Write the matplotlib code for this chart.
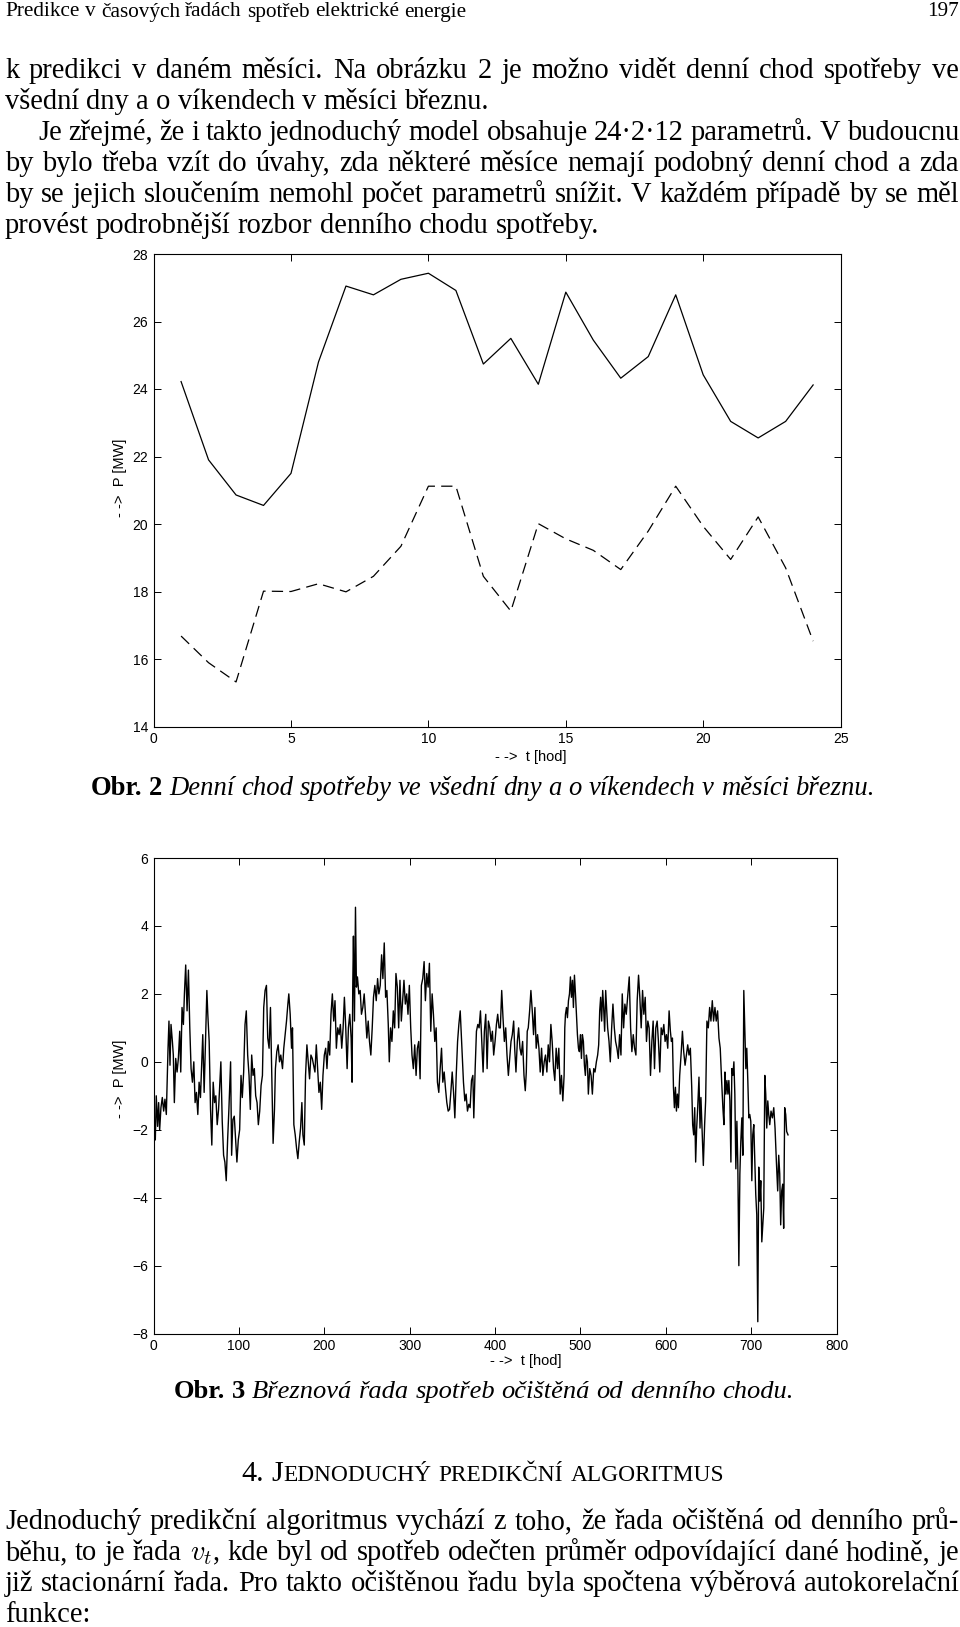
import matplotlib
matplotlib.use('Agg')
import matplotlib.pyplot as plt

# Obr. 2 - denni chod spotreby v breznu (vsedni dny / vikendy)
hodiny = list(range(1, 25))
vsedni = [24.22, 21.9, 20.86, 20.55, 21.5, 24.8, 27.05, 26.79, 27.25, 27.43, 26.92, 24.74,
          25.5, 24.14, 26.87, 25.45, 24.32, 24.96, 26.79, 24.42, 23.04, 22.55, 23.04, 24.12]
vikend = [16.68, 15.89, 15.32, 18.01, 18.0, 18.23, 17.99, 18.45, 19.34, 21.12, 21.12, 18.45,
          17.42, 20.01, 19.56, 19.22, 18.65, 19.79, 21.12, 19.93, 18.95, 20.21, 18.7, 16.53]
x1_ticks = [0, 5, 10, 15, 20, 25]
y1_ticks = [14, 16, 18, 20, 22, 24, 26, 28]

# Obr. 3 - breznova rada ocistena od denniho chodu
brezen_t = [
    0, 2.0, 3.1, 4.7, 5.9, 7.1, 8.6, 10.2, 11.8, 13.3,
    14.9, 16.9, 18.0, 19.2, 20.4, 22.0, 23.1, 24.3, 25.9, 27.5,
    29.0, 30.6, 31.8, 33.3, 34.9, 36.1, 37.6, 39.2, 40.8, 42.4,
    43.9, 45.5, 47.1, 48.6, 50.2, 51.8, 53.3, 54.9, 56.5, 57.6,
    59.2, 60.8, 62.4, 63.5, 65.1, 66.7, 68.2, 69.8, 71.4, 72.9,
    74.5, 76.1, 77.6, 78.8, 80.4, 82.0, 83.5, 85.1, 86.7, 88.2,
    90.2, 91.4, 92.9, 94.5, 96.1, 97.6, 99.2, 100.8, 102.4, 103.9,
    105.5, 107.1, 108.6, 110.2, 111.8, 113.3, 114.9, 116.5, 118.0, 119.6,
    121.2, 122.7, 124.3, 125.9, 127.5, 129.0, 130.6, 132.2, 133.7, 135.3,
    136.9, 138.4, 140.0, 141.6, 142.7, 144.3, 145.9, 147.5, 149.0, 151.0,
    152.5, 154.1, 155.7, 157.3, 158.4, 160.0, 161.6, 162.7, 164.3, 165.9,
    167.5, 169.0, 170.6, 172.2, 173.7, 174.9, 176.5, 178.0, 179.6, 181.2,
    182.7, 184.3, 185.9, 187.5, 189.0, 190.6, 192.2, 193.7, 195.3, 196.9,
    198.4, 200.0, 201.6, 203.1, 204.7, 206.3, 207.8, 209.4, 211.0, 212.5,
    214.1, 215.7, 217.3, 218.8, 220.4, 222.0, 223.5, 225.1, 226.7, 228.2,
    229.8, 231.4, 232.5, 233.3, 234.1, 235.3, 236.5, 237.6, 238.8, 240.4,
    242.0, 243.5, 245.1, 246.7, 248.2, 249.8, 251.4, 252.9, 254.5, 256.1,
    257.6, 259.2, 260.8, 262.4, 263.9, 265.5, 267.1, 268.6, 270.2, 271.8,
    273.3, 274.9, 276.1, 277.6, 279.2, 280.8, 282.4, 283.9, 285.5, 287.1,
    288.6, 290.2, 291.8, 293.3, 294.9, 296.5, 298.0, 299.6, 301.2, 302.7,
    304.3, 305.9, 307.5, 309.0, 310.6, 312.2, 313.7, 315.3, 316.9, 318.4,
    320.0, 321.6, 323.1, 324.7, 326.3, 327.8, 329.4, 331.0, 332.5, 334.1,
    335.7, 337.3, 338.8, 340.4, 342.0, 343.5, 345.1, 346.7, 348.2, 349.8,
    351.4, 352.9, 354.5, 356.1, 357.6, 359.2,
    361.5, 363.0, 364.6, 366.1, 367.7, 369.3, 370.8, 372.4, 374.0, 375.1,
    376.7, 378.2, 379.8, 381.3, 382.9, 384.4, 386.0, 387.5, 389.1, 390.7,
    392.2, 393.8, 395.3, 396.9, 398.4, 400.0, 401.6, 403.1, 404.7, 406.2,
    407.8, 409.3, 410.9, 412.5, 414.0, 415.6, 417.1, 418.7, 420.2, 421.8,
    423.0, 424.5, 426.1, 427.6, 429.2, 430.7, 432.3, 433.9, 435.4, 436.6,
    437.7, 438.9, 440.5, 442.0, 443.6, 445.1, 446.7, 448.2, 449.8, 451.4,
    452.9, 454.5, 456.0, 457.6, 459.1, 460.7, 462.3, 463.8, 465.4, 466.9,
    468.5, 470.0, 471.6, 473.2, 474.7, 476.3, 477.8, 479.4, 480.9, 481.7,
    482.5, 483.7, 484.8, 486.0, 487.2, 488.3, 489.5, 490.7, 491.8, 493.0,
    494.2, 495.3, 496.5, 497.7, 498.8, 500.0, 501.2, 502.3, 503.5, 504.7,
    505.8, 507.0, 508.2, 509.3, 510.9, 512.5, 514.0, 515.6, 517.1, 518.7,
    520.2, 521.4, 522.6, 523.7, 524.9, 526.1, 527.2, 528.4, 529.6, 530.7,
    531.9, 533.5, 535.0, 536.6, 538.1, 539.7, 541.2, 542.8, 544.4, 545.9,
    547.5, 549.0, 550.6, 552.1, 553.7, 555.3, 557.2, 558.8, 560.3, 561.9,
    563.4, 565.0, 566.5, 568.1, 569.6, 571.2, 572.8, 574.3, 575.9, 577.4,
    579.0, 580.5, 582.1, 583.7, 585.2, 586.8, 588.3, 589.9, 591.4, 593.0,
    594.6, 596.1, 597.7, 599.2, 600.8, 602.3, 603.9, 605.4, 606.6, 607.8,
    609.0, 610.1, 611.3, 612.5, 613.6, 614.8, 616.3, 617.9, 619.5, 621.0,
    622.6, 624.1, 625.7, 627.2, 628.8, 630.4, 631.5, 632.7, 633.9, 635.0,
    636.2, 637.4, 638.9, 640.1, 641.2, 642.8, 644.0, 645.5, 646.7, 648.2,
    649.8, 651.4, 652.9, 654.5, 656.0, 657.6, 659.1, 660.7, 662.3, 663.8,
    665.4, 666.9, 668.1, 669.3, 670.4, 671.6, 672.8, 673.9, 675.1, 676.3,
    677.4, 678.6, 679.8, 680.9, 682.1, 683.3, 684.4, 685.6, 686.8, 687.9,
    689.1, 690.3, 691.4, 692.6, 693.8, 694.9, 696.1, 697.3, 698.4, 699.6,
    700.8, 701.9, 703.1, 704.3, 705.4, 706.6, 707.8, 708.9, 710.1, 711.3,
    712.5, 713.6, 714.8, 716.0, 717.1, 718.3, 719.5, 720.6, 721.8, 723.3,
    724.9, 726.5, 728.0, 729.6, 731.1, 732.3, 733.5, 734.6, 735.8, 737.0,
    738.1, 739.3, 740.5, 741.6, 743.2,
]
brezen_v = [
    -1.65, -2.3, -1.0, -1.9, -1.2, -2.0, -1.35, -1.05, -1.45, -1.1,
    -1.55, 0.4, 1.2, -0.1, 1.1, 0.6, 0.2, -1.2, 0.1, -0.3,
    0.1, 0.9, -0.3, 1.6, 1.1, 2.0, 2.85, 1.5, 2.7, 1.0,
    -0.2, -0.6, 0.0, -1.2, -0.9, -1.55, -0.6, -1.05, 0.1, 0.8,
    -0.9, 0.6, 2.1, 1.4, 0.6, -1.4, -2.45, -0.6, -1.2, -1.0,
    -1.85, -1.4, -0.6, 0.0, -1.75, -2.75, -2.95, -3.5, -2.3, -1.4,
    0.0, -2.75, -1.7, -1.6, -2.3, -2.95, -2.3, -2.0, -0.4, -1.05,
    -0.3, 1.1, 1.5, 0.2, -0.4, -1.4, 0.2, -0.4, -0.2, -1.0,
    -1.2, -1.85, -1.45, -0.7, -0.4, 1.6, 2.1, 2.25, 0.7, 0.4,
    1.6, -0.4, -2.4, -1.4, -0.2, 0.3, 0.5, 0.0, 0.2, -0.2,
    0.4, 0.8, 1.2, 1.7, 2.0, 1.4, 0.4, 1.0, -1.85, -2.15,
    -2.55, -2.85, -2.35, -1.95, -1.2, -2.15, -2.45, -0.4, 0.5, 0.0,
    -0.5, 0.2, 0.1, -0.1, -0.3, 0.5, -0.2, -0.9, -0.6, -1.4,
    -0.4, 0.2, 0.4, -0.2, 0.6, 0.2, 1.4, 2.0, 1.2, 1.8,
    0.4, 1.0, 0.8, 1.1, 0.4, 1.0, 1.9, 1.0, -0.2, 1.0,
    1.4, 0.7, -0.6, 2.2, 3.7, 1.2, 4.55, 2.2, 2.5, 2.0,
    2.1, 1.4, 1.6, 2.0, 1.4, 0.7, 1.2, 0.6, 0.2, 1.0,
    1.9, 2.25, 1.8, 2.45, 2.0, 2.25, 3.15, 2.45, 3.5, 1.9,
    2.1, 1.1, 0.0, 1.0, 0.6, 1.5, 1.0, 2.6, 2.2, 1.0,
    2.4, 1.2, 1.8, 2.4, 1.7, 2.0, 1.4, 2.25, 1.0, 0.2,
    -0.2, 0.5, -0.4, 0.4, 0.6, -0.5, 2.25, 2.45, 2.95, 1.8,
    2.6, 2.2, 2.9, 0.9, 2.0, 1.4, 0.6, 1.0, -0.6, -0.9,
    -0.2, 0.4, -0.6, -0.3, -0.8, -1.2, -1.45, -1.4, -0.9, -0.3,
    -0.9, -1.65, -0.4, 0.6, 1.1, 1.5,
    0.2, -0.6, -1.15, -0.95, -1.45, -1.25, -1.35, -0.55, -0.4, -1.65,
    -0.2, 0.9, 1.1, 1.0, 1.5, 0.6, -0.3, 0.9, 1.4, -0.2,
    1.2, 1.0, 0.6, 0.9, 0.2, 0.6, 1.1, 1.4, 1.0, 1.0,
    2.1, 1.3, 0.6, 1.0, 0.2, -0.4, 0.1, 0.6, 0.8, 1.2,
    0.4, -0.3, 0.6, 1.0, 0.4, 0.2, 0.6, -0.4, -0.85, -0.3,
    0.9, 1.0, 1.5, 2.1, 1.5, 0.8, 1.6, 0.4, 0.8, 0.4,
    -0.3, 0.4, -0.4, 0.0, 0.2, -0.3, 0.5, 0.0, 1.1, 0.6,
    -0.2, -0.55, 0.4, -0.2, 0.4, -0.95, -0.4, -1.15, -0.4, 1.0,
    1.4, 1.6, 1.3, 1.8, 2.0, 2.5, 1.9, 2.4, 1.6, 2.55,
    2.0, 1.4, 0.8, 0.4, 0.3, 0.8, 0.1, 0.8, 0.6, -0.1,
    -0.4, 0.2, 0.0, -0.95, -0.2, -0.4, -0.95, -0.2, -0.3, 0.0,
    0.2, 0.5, 1.5, 1.9, 1.2, 2.1, 1.6, 0.9, 2.1, 1.6,
    1.0, 0.6, 0.0, 1.0, 1.7, 1.0, 0.6, 0.4, 0.1, 0.8,
    0.2, 2.0, 1.0, 1.7, 1.4, 1.9, 2.5, 1.0, 0.3, 0.8,
    0.4, 0.2, 1.8, 2.55, 1.9, 1.0, 2.1, 1.4, 1.9, 0.6,
    1.2, 1.0, -0.4, 0.6, 1.2, -0.2, 1.0, 1.2, 0.6, -0.3,
    1.0, 0.8, 1.1, 0.6, 0.8, 0.4, 1.5, 0.9, 0.6, 0.7,
    -0.75, -1.35, -0.75, -1.45, -0.95, -1.35, -0.4, 0.2, 0.9, 0.3,
    -0.1, 0.2, 0.5, 0.2, 0.4, -0.75, -1.85, -2.15, -1.35, -2.95,
    -1.95, -1.35, -0.45, -1.95, -1.05, -2.15, -3.05, -1.85, -1.15, 1.2,
    1.0, 1.6, 1.2, 1.8, 1.2, 1.6, 1.2, 1.5, 0.7, 0.4,
    -0.55, -1.35, -1.85, -0.3, -0.95, -0.55, -0.95, -0.55, -1.15, -2.95,
    -0.2, -0.4, 0.0, -0.95, -3.15, -1.75, -3.05, -6.0, -3.3, -2.35,
    -1.65, -2.75, 2.1, 1.0, -0.2, 0.4, -0.55, -1.65, -1.55, -1.75,
    -3.5, -2.15, -1.85, -2.95, -3.9, -4.5, -7.65, -3.1, -4.1, -3.5,
    -5.3, -4.8, -4.3, -0.4, -0.95, -1.95, -1.15, -1.55, -1.85, -1.45,
    -1.65, -1.35, -1.95, -2.95, -3.8, -2.75, -3.3, -4.8, -3.8, -3.6,
    -4.9, -1.35, -1.55, -2.05, -2.15,
]
x2_ticks = [0, 100, 200, 300, 400, 500, 600, 700, 800]
y2_ticks = [-8, -6, -4, -2, 0, 2, 4, 6]

# texty stranky
zahlavi = 'Predikce v časových řadách spotřeb elektrické energie'
cislo_strany = '197'
odstavec1 = [
    'k predikci v daném měsíci. Na obrázku 2 je možno vidět denní chod spotřeby ve',
    'všední dny a o víkendech v měsíci březnu.',
    'Je zřejmé, že i takto jednoduchý model obsahuje 24·2·12 parametrů. V budoucnu',
    'by bylo třeba vzít do úvahy, zda některé měsíce nemají podobný denní chod a zda',
    'by se jejich sloučením nemohl počet parametrů snížit. V každém případě by se měl',
    'provést podrobnější rozbor denního chodu spotřeby.',
]
odstavec2 = [
    'Jednoduchý predikční algoritmus vychází z toho, že řada očištěná od denního prů-',
    'běhu, to je řada $v_t$, kde byl od spotřeb odečten průměr odpovídající dané hodině, je',
    'již stacionární řada. Pro takto očištěnou řadu byla spočtena výběrová autokorelační',
    'funkce:',
]
popis2 = 'Denní chod spotřeby ve všední dny a o víkendech v měsíci březnu.'
popis3 = 'Březnová řada spotřeb očištěná od denního chodu.'

W, H = 960, 1627
plt.rcParams['mathtext.fontset'] = 'cm'
fig = plt.figure(figsize=(W / 100, H / 100), dpi=100)
fig.patch.set_facecolor('white')
renderer = fig.canvas.get_renderer()

SERIF = 'Liberation Serif'
SANS = 'Liberation Sans'
ROMAN = dict(fontfamily=SERIF)
ITAL = dict(fontfamily=SERIF, fontstyle='italic')
BOLD = dict(fontfamily=SERIF, fontweight='bold')


def measure(s, size, kw):
    t = fig.text(0, 0, s, fontsize=size, **kw)
    w = t.get_window_extent(renderer).width
    t.remove()
    return w


def words(s, kw=ROMAN, rel=1.0):
    return [[(w, kw, rel)] for w in s.split()]


def draw_line(ws, y, size, x0=5, x1=959, mode='left', fit=None):
    # ws: seznam slov, slovo = seznam kousku (text, styl, relativni velikost)
    if fit is not None:
        nat = sum(measure(p, size * r, kw) for w in ws for p, kw, r in w)
        nat += (len(ws) - 1) * (measure('x x', size, ROMAN) - measure('xx', size, ROMAN))
        size = size * fit / nat
    space = measure('x x', size, ROMAN) - measure('xx', size, ROMAN)
    widths = [[measure(p, size * r, kw) for p, kw, r in w] for w in ws]
    total = sum(sum(w) for w in widths)
    if mode == 'justify' and len(ws) > 1:
        gap = (x1 - x0 - total) / (len(ws) - 1)
    else:
        gap = space
    if mode == 'center':
        x = (x0 + x1) / 2 - (total + gap * (len(ws) - 1)) / 2
    else:
        x = x0
    for w, wd in zip(ws, widths):
        for (p, kw, r), pw in zip(w, wd):
            fig.text(x / W, 1 - y / H, p, fontsize=size * r, ha='left', va='baseline', **kw)
            x += pw
        x += gap


# velikost textu podle sirky posledniho radku odstavce
FS = 18 * 595 / measure(odstavec1[5], 18, ROMAN)

draw_line(words(zahlavi), 16.5, 15.3, x0=5)
fig.text(959 / W, 1 - 16.5 / H, cislo_strany, fontsize=15.3, ha='right', va='baseline', **ROMAN)

body_y = [78, 109, 140, 171, 202, 233]
modes = ['justify', 'left', 'justify', 'justify', 'justify', 'left']
starts = [5, 5, 38, 5, 5, 5]
for line, y, m, x0 in zip(odstavec1, body_y, modes, starts):
    draw_line(words(line), y, FS, x0=x0, mode=m)

# popisky obrazku
cap2 = words('Obr. 2', BOLD) + words(popis2, ITAL)
draw_line(cap2, 795, FS, x0=91, fit=781)
cap3 = words('Obr. 3', BOLD) + words(popis3, ITAL)
draw_line(cap3, 1398, FS, x0=174, fit=617)

# nadpis kapitoly (kapitalky)
SC = 0.78
nadpis = [[('4.', ROMAN, 1.0)],
          [('J', ROMAN, 1.0), ('EDNODUCHÝ', ROMAN, SC)],
          [('PREDIKČNÍ', ROMAN, SC)],
          [('ALGORITMUS', ROMAN, SC)]]
draw_line(nadpis, 1481, FS, x0=241, fit=483)

body2_y = [1529, 1560, 1591, 1622]
modes2 = ['justify', 'justify', 'justify', 'left']
for line, y, m in zip(odstavec2, body2_y, modes2):
    draw_line(words(line), y, FS, mode=m)


def style_axes(ax):
    ax.tick_params(direction='in', top=True, right=True, length=5, width=0.7,
                   labelsize=10, pad=4, colors='black')
    for lab in ax.get_xticklabels() + ax.get_yticklabels():
        lab.set_fontfamily(SANS)
    for sp in ax.spines.values():
        sp.set_linewidth(0.8)
        sp.set_color('black')


LAB = dict(fontsize=10.5, fontfamily=SANS, ha='center', va='center')

# Obr. 2
ax1 = fig.add_axes([153.6 / W, 1 - 726.5 / H, (840.6 - 153.6) / W, (726.5 - 254) / H])
ax1.plot(hodiny, vsedni, color='black', lw=0.9)
ax1.plot(hodiny, vikend, color='black', lw=0.9, dashes=(9, 5))
ax1.set_xlim(0, 25)
ax1.set_ylim(14, 28)
ax1.set_xticks(x1_ticks)
ax1.set_yticks(y1_ticks)
style_axes(ax1)
fig.text(531 / W, 1 - 756.5 / H, '- ->  t [hod]', **LAB)
fig.text(120.4 / W, 1 - 477.4 / H, '- ->  P [MW]', rotation=90, **LAB)

# Obr. 3
ax2 = fig.add_axes([153.6 / W, 1 - 1333.6 / H, (836.5 - 153.6) / W, (1333.6 - 858) / H])
ax2.plot(brezen_t, brezen_v, color='black', lw=1.0)
ax2.set_xlim(0, 800)
ax2.set_ylim(-8, 6)
ax2.set_xticks(x2_ticks)
ax2.set_yticks(y2_ticks)
style_axes(ax2)
fig.text(525.6 / W, 1 - 1361.5 / H, '- ->  t [hod]', **LAB)
fig.text(120.4 / W, 1 - 1079.3 / H, '- ->  P [MW]', rotation=90, **LAB)

fig.savefig('out.png', dpi=100, facecolor='white')
